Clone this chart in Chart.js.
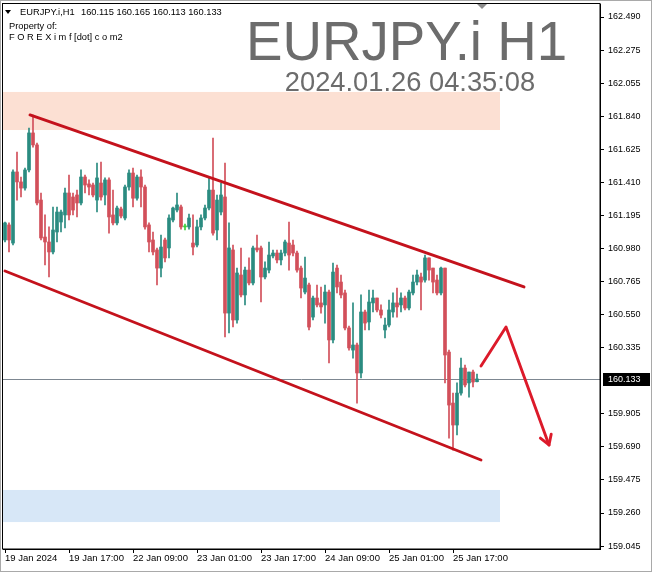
<!DOCTYPE html>
<html>
<head>
<meta charset="utf-8">
<script src="https://cdn.jsdelivr.net/npm/chart.js@4.4.1/dist/chart.umd.min.js"></script>
<style>
  html, body { margin: 0; padding: 0; background: #fff; }
  canvas { display: block; }
</style>
</head>
<body>
<canvas id="chart" width="652" height="572"></canvas>
<script>
// EURJPY.i H1 candles (prices)
const opens = [
  161.038, 161.136, 161.018, 161.481, 161.416, 161.376, 161.494, 161.735, 161.657, 161.298,
  161.057, 161.025, 160.960, 161.090, 161.155, 161.201, 161.344, 161.318, 161.331, 161.279,
  161.448, 161.403, 161.396, 161.298, 161.409, 161.331, 161.429, 161.201, 161.149, 161.240,
  161.181, 161.383, 161.474, 161.310, 161.448, 161.383, 161.136, 161.038, 160.973, 160.855,
  161.038, 160.986, 161.168, 161.233, 161.253, 161.123, 161.123, 161.018, 161.005, 161.123,
  161.181, 161.246, 161.363, 161.103, 161.220, 161.318, 160.562, 160.973, 160.517, 160.810,
  160.680, 160.842, 160.758, 160.986, 160.986, 160.797, 160.842, 160.934, 160.953, 160.908,
  160.953, 161.018, 161.005, 160.953, 160.855, 160.699, 160.745, 160.536, 160.660, 160.628,
  160.615, 160.699, 160.387, 160.855, 160.764, 160.693, 160.465, 160.321, 160.354, 160.172,
  160.569, 160.504, 160.628, 160.660, 160.582, 160.452, 160.484, 160.569, 160.628, 160.615,
  160.660, 160.595, 160.693, 160.764, 160.797, 160.777, 160.921, 160.855, 160.777, 160.693,
  160.855, 160.308, 159.976, 159.833, 160.041, 160.204, 160.107, 160.178, 160.115
];
const highs = [
  161.155, 161.149, 161.494, 161.611, 161.448, 161.507, 161.767, 161.852, 161.669, 161.344,
  161.201, 161.123, 161.253, 161.253, 161.233, 161.376, 161.461, 161.344, 161.363, 161.494,
  161.461, 161.429, 161.409, 161.539, 161.546, 161.442, 161.442, 161.363, 161.259, 161.253,
  161.396, 161.494, 161.507, 161.461, 161.494, 161.396, 161.149, 161.090, 160.986, 161.070,
  161.051, 161.201, 161.253, 161.344, 161.266, 161.142, 161.207, 161.201, 161.168, 161.201,
  161.266, 161.442, 161.702, 161.331, 161.409, 161.539, 161.149, 161.005, 160.855, 160.986,
  160.862, 160.921, 160.999, 161.070, 160.999, 160.895, 161.025, 160.973, 160.973, 160.973,
  161.038, 161.155, 161.038, 160.966, 160.868, 160.927, 160.758, 160.673, 160.745, 160.732,
  160.745, 160.712, 160.888, 160.875, 160.810, 160.712, 160.478, 160.628, 160.367, 160.680,
  160.582, 160.712, 160.712, 160.660, 160.615, 160.530, 160.647, 160.693, 160.725, 160.693,
  160.673, 160.712, 160.810, 160.842, 160.823, 160.940, 160.921, 160.855, 160.810, 160.862,
  160.855, 160.321, 160.041, 160.107, 160.269, 160.224, 160.178, 160.191, 160.165
];
const lows = [
  161.025, 160.960, 161.005, 161.298, 161.318, 161.363, 161.481, 161.643, 161.266, 161.038,
  160.875, 160.797, 160.947, 161.025, 161.090, 161.116, 161.168, 161.201, 161.188, 161.266,
  161.344, 161.331, 161.318, 161.220, 161.298, 161.266, 161.083, 161.136, 161.136, 161.181,
  161.168, 161.363, 161.253, 161.298, 161.253, 161.109, 160.960, 160.940, 160.745, 160.797,
  160.895, 160.921, 161.155, 161.220, 161.109, 161.103, 161.109, 160.940, 160.992, 161.103,
  161.168, 161.233, 161.070, 161.038, 161.201, 160.406, 160.432, 160.471, 160.497, 160.667,
  160.615, 160.745, 160.745, 160.960, 160.634, 160.784, 160.823, 160.921, 160.888, 160.875,
  160.934, 160.842, 160.934, 160.829, 160.660, 160.686, 160.452, 160.517, 160.602, 160.562,
  160.497, 160.237, 160.367, 160.693, 160.660, 160.452, 160.321, 160.269, 159.976, 160.139,
  160.452, 160.452, 160.569, 160.569, 160.530, 160.400, 160.471, 160.536, 160.536, 160.569,
  160.582, 160.582, 160.680, 160.745, 160.582, 160.764, 160.777, 160.693, 160.680, 160.680,
  160.107, 159.748, 159.670, 159.768, 160.028, 160.081, 160.015, 160.081, 160.113
];
const closes = [
  161.149, 161.038, 161.481, 161.416, 161.376, 161.494, 161.735, 161.657, 161.279, 161.051,
  161.025, 160.960, 161.103, 161.220, 161.220, 161.344, 161.201, 161.233, 161.279, 161.448,
  161.396, 161.383, 161.331, 161.442, 161.318, 161.429, 161.188, 161.149, 161.246, 161.194,
  161.383, 161.474, 161.310, 161.448, 161.383, 161.123, 161.025, 160.960, 160.855, 160.992,
  160.921, 161.181, 161.246, 161.266, 161.123, 161.123, 161.181, 160.992, 161.123, 161.181,
  161.246, 161.363, 161.083, 161.298, 161.331, 160.562, 160.986, 160.517, 160.823, 160.680,
  160.842, 160.758, 160.986, 160.973, 160.797, 160.855, 160.940, 160.953, 160.908, 160.953,
  161.025, 160.940, 160.953, 160.842, 160.725, 160.790, 160.471, 160.660, 160.615, 160.602,
  160.699, 160.387, 160.829, 160.732, 160.680, 160.465, 160.335, 160.354, 160.172, 160.569,
  160.497, 160.634, 160.660, 160.582, 160.549, 160.484, 160.582, 160.628, 160.602, 160.660,
  160.595, 160.699, 160.764, 160.810, 160.764, 160.921, 160.842, 160.764, 160.693, 160.855,
  160.289, 159.963, 159.833, 160.041, 160.204, 160.094, 160.178, 160.113, 160.133
];

const xTickLabels = ["19 Jan 2024", "19 Jan 17:00", "22 Jan 09:00", "23 Jan 01:00",
                     "23 Jan 17:00", "24 Jan 09:00", "25 Jan 01:00", "25 Jan 17:00"];
const xTickBars = [0, 16, 32, 48, 64, 80, 96, 112];
const yTickValues = [162.490, 162.275, 162.055, 161.840, 161.625, 161.410, 161.195, 160.980,
                     160.765, 160.550, 160.335, 159.905, 159.690, 159.475, 159.260, 159.045];
const lastPrice = 160.133;

// drawn objects, in (bar, price)
const upperChannel = [[6.25, 161.852], [129.75, 160.732]];
const lowerChannel = [[0, 160.836], [119, 159.605]];
const forecastPath = [[119, 160.217], [125.25, 160.471], [136, 159.703]];
const sellZone = [-0.5, 123.75, 162.002, 161.754];
const buyZone = [-0.5, 123.75, 159.410, 159.201];

const BULL = '#2a8b80';
const BEAR = '#d24f5a';
const DOJI = '#3ccf3c';

const bars = opens.map((_, i) => i);
const colors = bars.map(i => closes[i] > opens[i] ? BULL : (closes[i] < opens[i] ? BEAR : DOJI));

function noPadding(s) {
  s.paddingTop = 0;
  s.paddingBottom = 0;
  s.paddingLeft = 0;
  s.paddingRight = 0;
}

const overlay = {
  id: 'overlay',
  beforeDatasetsDraw(chart) {
    const { ctx, chartArea: a, scales: { x, y } } = chart;
    ctx.save();
    ctx.beginPath();
    ctx.rect(a.left, a.top, a.right - a.left, a.bottom - a.top);
    ctx.clip();

    const zone = (z, color) => {
      const x0 = x.getPixelForValue(z[0]), x1 = x.getPixelForValue(z[1]);
      const y0 = y.getPixelForValue(z[2]), y1 = y.getPixelForValue(z[3]);
      ctx.fillStyle = color;
      ctx.fillRect(x0, y0, x1 - x0, y1 - y0);
    };
    zone(sellZone, '#fce0d3');
    zone(buyZone, '#d7e7f7');

    // current price line
    const py = Math.round(y.getPixelForValue(lastPrice)) + 0.5;
    ctx.strokeStyle = '#7d8791';
    ctx.lineWidth = 1;
    ctx.beginPath();
    ctx.moveTo(a.left, py);
    ctx.lineTo(a.right, py);
    ctx.stroke();

    // title texts
    ctx.fillStyle = '#6c6c6c';
    ctx.textAlign = 'center';
    ctx.textBaseline = 'alphabetic';
    ctx.font = '54.7px "Liberation Sans", Arial, sans-serif';
    ctx.fillText('EURJPY.i H1', 406.5, 60);
    ctx.font = '27.3px "Liberation Sans", Arial, sans-serif';
    ctx.fillText('2024.01.26 04:35:08', 410, 91);
    ctx.restore();
  },
  afterDatasetsDraw(chart) {
    const { ctx, chartArea: a, scales: { x, y } } = chart;
    ctx.save();
    ctx.beginPath();
    ctx.rect(a.left, a.top, a.right - a.left, a.bottom - a.top);
    ctx.clip();
    ctx.lineCap = 'round';
    ctx.lineJoin = 'round';

    const path = (pts, color, w) => {
      ctx.strokeStyle = color;
      ctx.lineWidth = w;
      ctx.beginPath();
      pts.forEach((p, i) => {
        const px = x.getPixelForValue(p[0]), py = y.getPixelForValue(p[1]);
        if (i === 0) ctx.moveTo(px, py); else ctx.lineTo(px, py);
      });
      ctx.stroke();
    };
    path(upperChannel, '#c4121c', 2.9);
    path(lowerChannel, '#c4121c', 2.9);
    path(forecastPath, '#dc1a2a', 2.9);

    // arrow head
    const n = forecastPath.length;
    const ex = x.getPixelForValue(forecastPath[n - 1][0]), ey = y.getPixelForValue(forecastPath[n - 1][1]);
    const sx = x.getPixelForValue(forecastPath[n - 2][0]), sy = y.getPixelForValue(forecastPath[n - 2][1]);
    const ang = Math.atan2(ey - sy, ex - sx);
    ctx.beginPath();
    ctx.moveTo(ex - 11 * Math.cos(ang - 0.55), ey - 11 * Math.sin(ang - 0.55));
    ctx.lineTo(ex, ey);
    ctx.lineTo(ex - 11 * Math.cos(ang + 0.55), ey - 11 * Math.sin(ang + 0.55));
    ctx.stroke();
    ctx.restore();
  },
  afterDraw(chart) {
    const { ctx, chartArea: a, scales: { x, y } } = chart;
    ctx.save();
    // plot frame
    ctx.strokeStyle = '#000';
    ctx.lineWidth = 1;
    ctx.strokeRect(a.left - 0.5, a.top - 0.5, a.right - a.left + 0.5, a.bottom - a.top + 0.5);
    // window frame
    ctx.strokeStyle = '#a9a9a9';
    ctx.strokeRect(0.5, 0.5, chart.width - 1, chart.height - 1);

    // shift marker
    const mx = x.getPixelForValue(119.25);
    ctx.fillStyle = '#8c8c8c';
    ctx.beginPath();
    ctx.moveTo(mx - 5, a.top);
    ctx.lineTo(mx + 5, a.top);
    ctx.lineTo(mx, a.top + 5);
    ctx.closePath();
    ctx.fill();

    // price label box
    const py = Math.round(y.getPixelForValue(lastPrice));
    ctx.fillStyle = '#000';
    ctx.fillRect(a.right + 3, py - 6, 47, 13);
    ctx.fillStyle = '#fff';
    ctx.font = '9px "Liberation Sans", Arial, sans-serif';
    ctx.textAlign = 'left';
    ctx.textBaseline = 'middle';
    ctx.fillText(lastPrice.toFixed(3), a.right + 8, py + 0.5);

    // header
    ctx.fillStyle = '#000';
    ctx.beginPath();
    ctx.moveTo(5, 10); ctx.lineTo(11, 10); ctx.lineTo(8, 14); ctx.closePath();
    ctx.fill();
    ctx.font = '9.3px "Liberation Sans", Arial, sans-serif';
    ctx.fillText('EURJPY.i,H1', 20, 12.5);
    ctx.fillText([opens[118], highs[118], lows[118], closes[118]].map(v => v.toFixed(3)).join(' '), 81, 12.5);
    ctx.fillText('Property of:', 9, 26);
    ctx.fillText('F O R E X i m f [dot] c o m2', 9, 37);
    ctx.restore();
  }
};

new Chart(document.getElementById('chart'), {
  type: 'bar',
  data: {
    datasets: [
      {
        label: 'body',
        data: bars.map(i => ({ x: i, y: [opens[i], closes[i]] })),
        backgroundColor: colors,
        barThickness: 3,
        minBarLength: 1,
        grouped: false
      },
      {
        label: 'wick',
        data: bars.map(i => ({ x: i, y: [lows[i], highs[i]] })),
        backgroundColor: colors,
        barThickness: 1,
        grouped: false
      }
    ]
  },
  options: {
    responsive: false,
    animation: false,
    events: [],
    layout: { padding: { left: 3, top: 4, right: 0, bottom: 0 } },
    plugins: { legend: { display: false }, tooltip: { enabled: false } },
    scales: {
      x: {
        type: 'linear',
        offset: false,
        min: -0.5,
        max: 148.75,
        afterBuildTicks: s => { s.ticks = xTickBars.map(v => ({ value: v })); },
        afterFit: s => { s.height = 23; noPadding(s); },
        ticks: {
          autoSkip: false,
          maxRotation: 0,
          align: 'start',
          padding: 0,
          color: '#000',
          font: { family: '"Liberation Sans", Arial, sans-serif', size: 9.5 },
          callback: (v, i) => xTickLabels[i]
        },
        grid: { offset: false, drawOnChartArea: false, tickLength: 4, color: '#000' },
        border: { color: '#000' }
      },
      y: {
        position: 'right',
        min: 159.0256,
        max: 162.5747,
        afterBuildTicks: s => { s.ticks = yTickValues.map(v => ({ value: v })); },
        afterFit: s => { s.width = 52; noPadding(s); },
        ticks: {
          autoSkip: false,
          padding: 4,
          color: '#000',
          font: { family: '"Liberation Sans", Arial, sans-serif', size: 9 },
          callback: v => v.toFixed(3)
        },
        grid: { drawOnChartArea: false, tickLength: 4, color: '#000' },
        border: { color: '#000' }
      }
    }
  },
  plugins: [overlay]
});
</script>
</body>
</html>
